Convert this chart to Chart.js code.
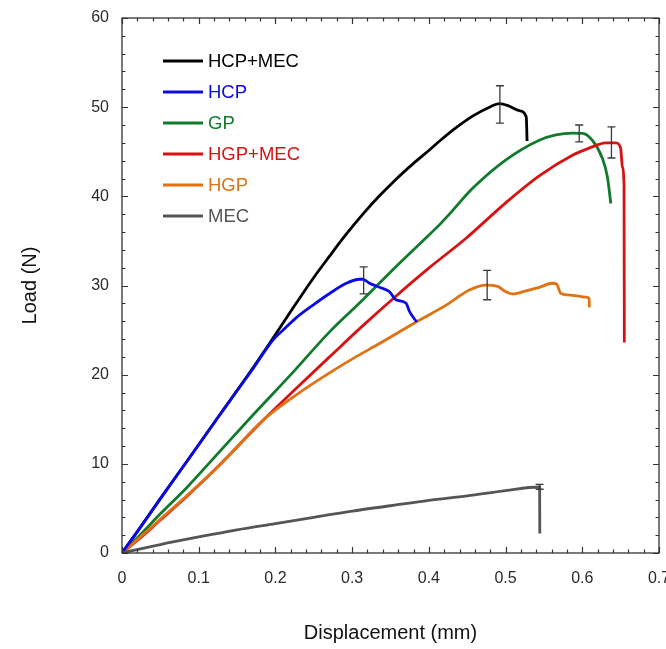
<!DOCTYPE html>
<html>
<head>
<meta charset="utf-8">
<script src="https://cdn.jsdelivr.net/npm/chart.js@4.4.1/dist/chart.umd.min.js"></script>
<style>
  html, body { margin: 0; padding: 0; background: #ffffff; }
  #wrap { width: 666px; height: 649px; position: relative; }
</style>
</head>
<body>
<div id="wrap"><canvas id="c"></canvas></div>
<script>
// ---------------- DATA ----------------
const seriesNames = ["HCP+MEC", "HCP", "GP", "HGP+MEC", "HGP", "MEC"];
const seriesColors = ["#000000", "#0a0ae6", "#127a2c", "#d81212", "#e07214", "#555555"];

const hcpMec = [[0,0],[0.02,2.4],[0.05,6.1],[0.084,10.2],[0.1275,15.5],[0.171,20.8],[0.2,24.5],[0.227,28.0],[0.25,30.9],[0.2706,33.3],[0.29,35.5],[0.314,38.0],[0.335,40.0],[0.357,41.9],[0.38,43.7],[0.4007,45.2],[0.414,46.2],[0.4355,47.7],[0.457,49.0],[0.479,50.0],[0.492,50.4],[0.505,50.1],[0.518,49.6],[0.527,48.9],[0.528,46.2]];
const hcp = [[0,0],[0.02,2.4],[0.05,6.1],[0.084,10.2],[0.1275,15.5],[0.171,20.7],[0.197,23.9],[0.21,25.0],[0.2273,26.4],[0.249,27.8],[0.2706,29.1],[0.2924,30.25],[0.3097,30.7],[0.314,30.7],[0.3227,30.25],[0.3357,29.8],[0.3487,29.3],[0.357,28.4],[0.3704,28.0],[0.3747,27.1],[0.3842,25.9]];
const gp = [[0,0],[0.02,1.7],[0.05,4.4],[0.084,7.3],[0.1275,11.4],[0.171,15.5],[0.22,20.0],[0.2706,24.8],[0.314,28.4],[0.357,32.1],[0.392,35.0],[0.4137,36.8],[0.4268,38.0],[0.457,40.9],[0.5005,44.1],[0.5439,46.3],[0.5656,46.9],[0.5872,47.1],[0.6002,47.07],[0.613,46.3],[0.626,44.3],[0.6327,42.2],[0.6372,39.2]];
const hgpMec = [[0,0],[0.02,1.4],[0.05,3.7],[0.084,6.3],[0.1275,9.9],[0.184,14.9],[0.23,18.7],[0.2706,22.0],[0.314,25.5],[0.357,28.8],[0.4007,32.0],[0.4485,35.3],[0.5005,39.3],[0.5439,42.3],[0.5872,44.6],[0.6089,45.4],[0.6307,46.0],[0.6437,46.0],[0.65,45.4],[0.6523,43.3],[0.6544,41.3],[0.6548,23.6]];
const hgp = [[0,0],[0.02,1.5],[0.05,3.8],[0.084,6.4],[0.1275,9.87],[0.184,14.9],[0.23,17.9],[0.2836,20.9],[0.301,21.8],[0.3357,23.5],[0.3834,25.9],[0.4225,27.8],[0.4528,29.5],[0.4745,30.05],[0.4896,29.9],[0.5005,29.3],[0.509,29.05],[0.5265,29.4],[0.5439,29.8],[0.5612,30.25],[0.5664,30.17],[0.5721,29.1],[0.5872,28.9],[0.6046,28.7],[0.6089,28.55],[0.6092,27.55]];
const mec = [[0,0],[0.05,0.95],[0.1,1.8],[0.15,2.6],[0.2,3.3],[0.25,4.0],[0.3,4.7],[0.35,5.3],[0.4,5.9],[0.45,6.4],[0.5,7.0],[0.5444,7.4],[0.5446,2.2]];

// error bars: x, low, high
const errX  = [0.4926, 0.315, 0.596, 0.638, 0.476, 0.5444];
const errLo = [48.2, 29.05, 46.1, 44.3, 28.4, 7.15];
const errHi = [52.4, 32.1, 48.0, 47.8, 31.7, 7.7];

const xTicks = [0, 0.1, 0.2, 0.3, 0.4, 0.5, 0.6, 0.7];
const yTicks = [0, 10, 20, 30, 40, 50, 60];

const allSeries = [hcpMec, hcp, gp, hgpMec, hgp, mec];
// --------------------------------------

const FONT = "Arial, 'Liberation Sans', sans-serif";

const boxAndTicks = {
  id: 'boxAndTicks',
  afterDraw(chart) {
    const {ctx, chartArea: a, scales: {x, y}} = chart;
    ctx.save();
    ctx.strokeStyle = '#333333';
    ctx.lineWidth = 1.3;
    ctx.strokeRect(a.left, a.top, a.right - a.left, a.bottom - a.top);
    ctx.beginPath();
    for (let i = 0; i <= 35; i++) {
      const px = Math.round(x.getPixelForValue(i * 0.02)) + 0.5;
      const L = (i % 5 === 0) ? 6 : 3.5;
      ctx.moveTo(px, a.bottom); ctx.lineTo(px, a.bottom - L);
      ctx.moveTo(px, a.top); ctx.lineTo(px, a.top + L);
    }
    for (let j = 0; j <= 30; j++) {
      const py = Math.round(y.getPixelForValue(j * 2)) + 0.5;
      const L = (j % 5 === 0) ? 6 : 3.5;
      ctx.moveTo(a.left, py); ctx.lineTo(a.left + L, py);
      ctx.moveTo(a.right, py); ctx.lineTo(a.right - L, py);
    }
    ctx.lineWidth = 1.2;
    ctx.stroke();

    // error bars
    ctx.strokeStyle = '#3a3a3a';
    ctx.lineWidth = 1.3;
    ctx.beginPath();
    for (let k = 0; k < errX.length; k++) {
      const px = x.getPixelForValue(errX[k]);
      const y1 = y.getPixelForValue(errLo[k]);
      const y2 = y.getPixelForValue(errHi[k]);
      ctx.moveTo(px, y1); ctx.lineTo(px, y2);
      ctx.moveTo(px - 4, y1); ctx.lineTo(px + 4, y1);
      ctx.moveTo(px - 4, y2); ctx.lineTo(px + 4, y2);
    }
    ctx.stroke();

    // legend
    ctx.font = '18.5px ' + FONT;
    ctx.textBaseline = 'middle';
    ctx.textAlign = 'left';
    chart.data.datasets.forEach((ds, i) => {
      const ly = 61 + i * 31;
      ctx.strokeStyle = ds.borderColor;
      ctx.lineWidth = 3;
      ctx.beginPath();
      ctx.moveTo(163, ly); ctx.lineTo(203, ly);
      ctx.stroke();
      ctx.fillStyle = ds.borderColor;
      ctx.fillText(ds.label, 208, ly + 1);
    });
    ctx.restore();
  }
};

new Chart(document.getElementById('c'), {
  type: 'scatter',
  data: {
    datasets: allSeries.map((s, i) => ({
      label: seriesNames[i],
      data: s.map(p => ({x: p[0], y: p[1]})),
      showLine: true,
      borderColor: seriesColors[i],
      backgroundColor: seriesColors[i],
      borderWidth: 2.8,
      pointRadius: 0,
      cubicInterpolationMode: 'monotone',
      order: [5, 1, 4, 3, 2, 0][i]
    }))
  },
  options: {
    responsive: true,
    maintainAspectRatio: false,
    animation: false,
    layout: { padding: { left: 0, right: 7, top: 18, bottom: 0 } },
    plugins: { legend: { display: false }, tooltip: { enabled: false } },
    scales: {
      x: {
        type: 'linear', min: 0, max: 0.7,
        afterBuildTicks(s) { s.ticks = xTicks.map(v => ({value: v})); },
        afterFit(s) { s.height = 96; s.paddingLeft = 0; s.paddingRight = 0; },
        grid: { display: false, drawTicks: false },
        border: { display: false },
        ticks: { padding: 16, color: '#2a2a2a', font: { size: 16, family: FONT }, maxRotation: 0, autoSkip: false },
        title: { display: true, text: 'Displacement (mm)', color: '#111111', font: { size: 20, family: FONT }, padding: { top: 4, bottom: 4 } }
      },
      y: {
        type: 'linear', min: 0, max: 60,
        afterBuildTicks(s) { s.ticks = yTicks.map(v => ({value: v})); },
        afterFit(s) { s.width = 122; s.paddingTop = 0; s.paddingBottom = 0; },
        grid: { display: false, drawTicks: false },
        border: { display: false },
        ticks: { padding: 13, color: '#2a2a2a', font: { size: 16, family: FONT }, autoSkip: false },
        title: { display: true, text: 'Load (N)', color: '#111111', font: { size: 20, family: FONT }, padding: { top: 18, bottom: 0 } }
      }
    }
  },
  plugins: [boxAndTicks]
});
</script>
</body>
</html>
